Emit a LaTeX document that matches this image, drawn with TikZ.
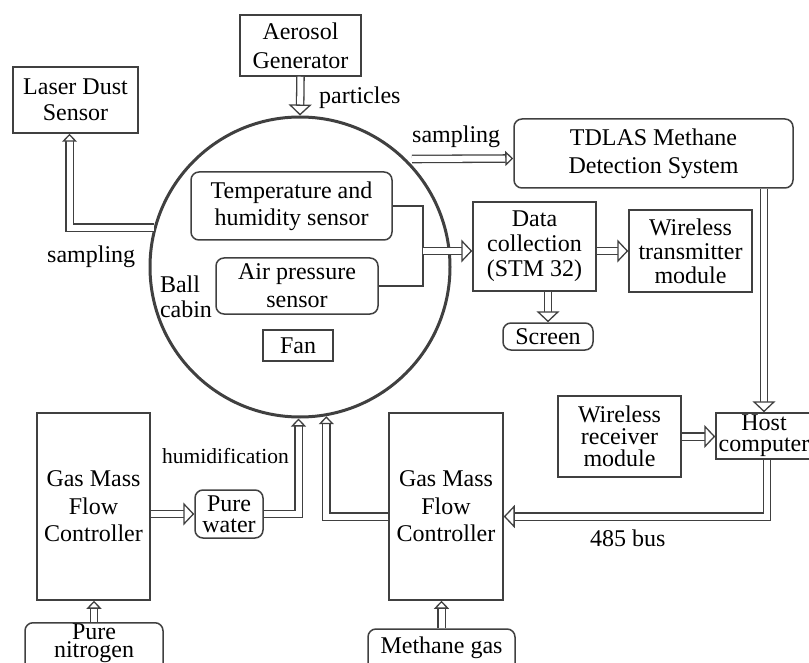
\documentclass[tikz,border=0pt]{standalone}
\usepackage{fontspec}
\setmainfont{Liberation Serif}
\usetikzlibrary{arrows.meta,calc}

\definecolor{linegray}{RGB}{64,64,64}

\tikzset{
 lead/.style={font=\fontsize{24}{#1}\selectfont},
 box/.style={draw=linegray, line width=1.5pt, align=center, inner sep=0pt, lead=27},
 rbox/.style={box, rounded corners=8pt},
 lbl/.style={align=center, inner sep=0pt, lead=25},
 wire/.style={draw=linegray, line width=1.5pt},
 pipe/.style={draw=linegray, line width=1.3pt, double=white, double distance=6pt},
 bighead/.style={-{Triangle[width=23pt,length=11pt,line width=1.3pt,fill=white]}},
 smallhead/.style={-{Triangle[width=15pt,length=8pt,line width=1.3pt,fill=white]}}
}

\begin{document}
\begin{tikzpicture}[x=1pt,y=-1pt]
\useasboundingbox (0,0) rectangle (809,663);

% ball cabin and what sits inside it
\node[circle, draw=linegray, line width=3pt, minimum size=300pt, inner sep=0pt] (ball) at (300,267) {};
\node[rbox, minimum width=201pt, minimum height=68pt] (temp) at (291.5,206) {Temperature and\\humidity sensor};
\node[rbox, minimum width=162pt, minimum height=56pt, lead=28] (press) at (297,286) {Air pressure\\sensor};
\node[box, minimum width=70pt, minimum height=31pt] (fan) at (298,345.5) {Fan};
\node[lbl, align=left] (cabin) at (186,297) {Ball\\cabin};

% boxes round the cabin
\node[box, minimum width=121pt, minimum height=61pt, lead=29] (aero) at (300.5,45.5) {Aerosol\\Generator};
\node[box, minimum width=125pt, minimum height=66pt, lead=26] (laser) at (75.5,100) {Laser Dust\\Sensor};
\node[rbox, minimum width=279pt, minimum height=69pt, lead=28] (tdlas) at (653.5,153.5) {TDLAS Methane\\Detection System};
\node[box, minimum width=123pt, minimum height=89pt, lead=25] (daq) at (534.5,246.5) {Data\\collection\\(STM 32)};
\node[box, minimum width=123pt, minimum height=82pt, lead=24] (wtx) at (690.5,251) {Wireless\\transmitter\\module};
\node[rbox, minimum width=90pt, minimum height=27pt] (screen) at (548,336.5) {Screen};
\node[box, minimum width=123pt, minimum height=81pt, lead=22] (wrx) at (619.5,436.5) {Wireless\\receiver\\module};
\node[box, minimum width=96pt, minimum height=46pt, lead=21] (host) at (764,436) {Host\\computer};

% gas supply
\node[box, minimum width=113pt, minimum height=187pt, lead=27.5] (gmfc1) at (93.5,506.5) {Gas Mass\\Flow\\Controller};
\node[box, minimum width=114pt, minimum height=187pt, lead=27.5] (gmfc2) at (446,506.5) {Gas Mass\\Flow\\Controller};
\node[rbox, minimum width=68pt, minimum height=48pt, lead=21] (water) at (229,514) {Pure\\water};
\node[rbox, minimum width=138pt, anchor=north, inner ysep=1pt, lead=18, text depth=24pt] (n2) at (94,622) {Pure\\nitrogen};
\node[rbox, minimum width=147pt, anchor=base, text height=24pt, text depth=24pt] (ch4) at (441.5,653) {Methane gas};

% labels
\node[lbl, anchor=base west] (part) at (319,104) {particles};
\node[lbl, anchor=base west] (samp1) at (47,262) {sampling};
\node[lbl, anchor=base west] (samp2) at (412,143) {sampling};
\node[lbl, anchor=base west, font=\fontsize{21.5}{24}\selectfont] (humid) at (162,463) {humidification};
\node[lbl, anchor=base west] (bus) at (590,546) {485 bus};

\coordinate (jn) at (423,251);
\coordinate (s2) at (412,159);

% connectors
\draw[pipe, bighead] (aero.south) -- (ball.north);
\draw[pipe, smallhead] (ball.165) -| ([xshift=-6pt]laser.south);
\draw[pipe, smallhead] (s2) -- ([yshift=-5pt]tdlas.west);
\draw[wire] (temp.east) -| (jn) |- (press.east);
\draw[pipe, bighead] (jn) -- (jn -| daq.west);
\draw[pipe, bighead] (daq.east |- wtx.west) -- (wtx.west);
\draw[pipe, bighead] (daq.south -| screen.north) -- (screen.north);
\draw[pipe, bighead] (tdlas.south -| host.north) -- (host.north);
\draw[pipe, bighead] (wrx.east) -- (wrx.east -| host.west);
\draw[pipe, bighead] ([xshift=3pt]host.south) |- ([yshift=-10pt]gmfc2.east);
\draw[pipe, bighead] (gmfc1.east |- water.west) -- (water.west);
\draw[pipe, smallhead] (water.east) -| ([xshift=-1.5pt]ball.south);
\draw[pipe, smallhead] ([yshift=-10pt]gmfc2.west) -| (ball.-80);
\draw[pipe, smallhead] (n2.north) -- (n2.north |- gmfc1.south);
\draw[pipe, smallhead] (ch4.north) -- (ch4.north |- gmfc2.south);
\end{tikzpicture}
\end{document}
